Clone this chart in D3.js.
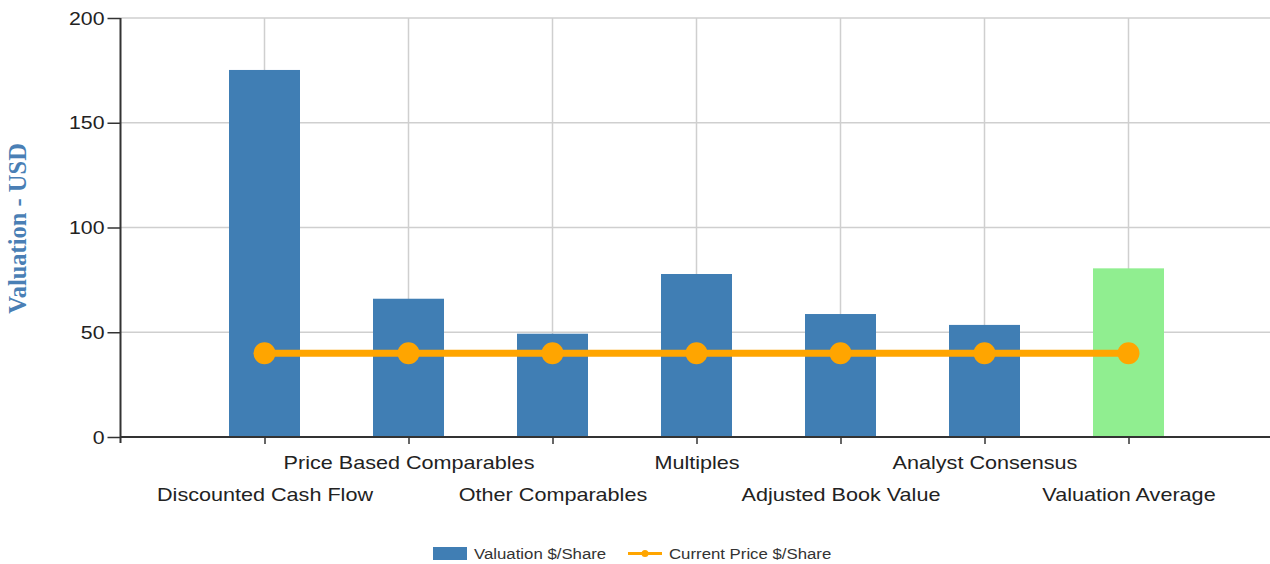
<!DOCTYPE html>
<html><head><meta charset="utf-8">
<script src="https://cdn.jsdelivr.net/npm/d3@7"></script>
<style>body{margin:0;background:#fff;}svg{display:block;font-family:"Liberation Sans",Arial,sans-serif;}</style>
</head><body>
<svg id="c" width="1270" height="564"></svg>
<script>
const categories = ["Discounted Cash Flow","Price Based Comparables","Other Comparables","Multiples","Adjusted Book Value","Analyst Consensus","Valuation Average"];
const valuations = [175.2, 66, 49.3, 77.8, 58.7, 53.5, 80.5];
const currentPrice = [40, 40, 40, 40, 40, 40, 40];
const yTicks = [0, 50, 100, 150, 200];
const seriesNames = ["Valuation $/Share", "Current Price $/Share"];

const svg = d3.select("#c");
const pLeft = 120.5, pRight = 1272.5, pTop = 18, pBottom = 437;
const x = d3.scalePoint().domain(categories).range([pLeft, pRight]).padding(1);
const y = d3.scaleLinear().domain([0, 200]).range([pBottom, pTop]);
const barW = 71;
const SX = 1.2;

// grid
svg.append("g").selectAll("line").data(yTicks.filter(d=>d>0)).join("line")
  .attr("x1", pLeft).attr("x2", 1270).attr("y1", d=>y(d)).attr("y2", d=>y(d))
  .attr("stroke", "#cfcfcf").attr("stroke-width", 1.5);
svg.append("g").selectAll("line").data(categories).join("line")
  .attr("x1", d=>x(d)).attr("x2", d=>x(d)).attr("y1", pTop).attr("y2", pBottom)
  .attr("stroke", "#cfcfcf").attr("stroke-width", 1.5);

// bars
svg.append("g").selectAll("rect").data(categories).join("rect")
  .attr("x", d=>x(d)-barW/2).attr("width", barW)
  .attr("y", (d,i)=>y(valuations[i])).attr("height", (d,i)=>y(0)-y(valuations[i]))
  .attr("fill", (d,i)=> i===categories.length-1 ? "#90EE90" : "#407EB4");

// axes
const yAxis = svg.append("g").attr("transform", `translate(${pLeft},0)`)
  .call(d3.axisLeft(y).tickValues(yTicks).tickSize(13).tickPadding(4));
yAxis.select(".domain").remove();
yAxis.selectAll(".tick line").attr("stroke", "#333").attr("stroke-width", 1.5);
yAxis.selectAll("text").attr("font-size", 19).attr("fill", "#222").attr("font-family", "Liberation Sans, Arial, sans-serif")
  .attr("x", null).attr("transform", "translate(-16,0) scale(1.12,1)");
svg.append("line").attr("x1", pLeft).attr("x2", pLeft).attr("y1", pTop).attr("y2", pBottom+6)
  .attr("stroke", "#333").attr("stroke-width", 2);

const xAxis = svg.append("g").attr("transform", `translate(0,${pBottom})`)
  .call(d3.axisBottom(x).tickSize(7).tickSizeOuter(0));
xAxis.select(".domain").attr("d", `M${pLeft},0H1270`).attr("stroke", "#333").attr("stroke-width", 2);
xAxis.selectAll(".tick line").attr("stroke", "#333").attr("stroke-width", 1.5);
xAxis.selectAll("text")
  .attr("font-size", 18).attr("fill", "#222").attr("font-family", "Liberation Sans, Arial, sans-serif")
  .attr("dy", null).attr("y", null)
  .attr("transform", (d,i)=> `translate(0,${i%2===1 ? 32 : 64}) scale(${SX},1)`);

// y title
svg.append("text").attr("transform", `translate(26,${(pTop+pBottom)/2+1}) rotate(-90)`)
  .attr("text-anchor", "middle").attr("font-family", "Liberation Serif, Times New Roman, serif")
  .attr("font-weight", "bold").attr("font-size", 24.5).attr("fill", "#4A7FB5")
  .text("Valuation - USD");

// line
const line = d3.line().x((d,i)=>x(categories[i])).y(d=>y(d));
svg.append("path").datum(currentPrice).attr("d", line)
  .attr("fill", "none").attr("stroke", "#FFA500").attr("stroke-width", 7);
svg.append("g").selectAll("circle").data(currentPrice).join("circle")
  .attr("cx", (d,i)=>x(categories[i])).attr("cy", d=>y(d)).attr("r", 11).attr("fill", "#FFA500");

// legend
const lg = svg.append("g");
lg.append("rect").attr("x", 433).attr("y", 547).attr("width", 34).attr("height", 13).attr("fill", "#407EB4");
lg.append("text").attr("transform", "translate(474,559) scale(1.12,1)").attr("font-size", 15).attr("fill", "#333").text(seriesNames[0]);
lg.append("line").attr("x1", 628).attr("x2", 662).attr("y1", 553.5).attr("y2", 553.5).attr("stroke", "#FFA500").attr("stroke-width", 3);
lg.append("circle").attr("cx", 645).attr("cy", 553.5).attr("r", 3.5).attr("fill", "#FFA500");
lg.append("text").attr("transform", "translate(669,559) scale(1.12,1)").attr("font-size", 15).attr("fill", "#333").text(seriesNames[1]);
</script>
</body></html>
